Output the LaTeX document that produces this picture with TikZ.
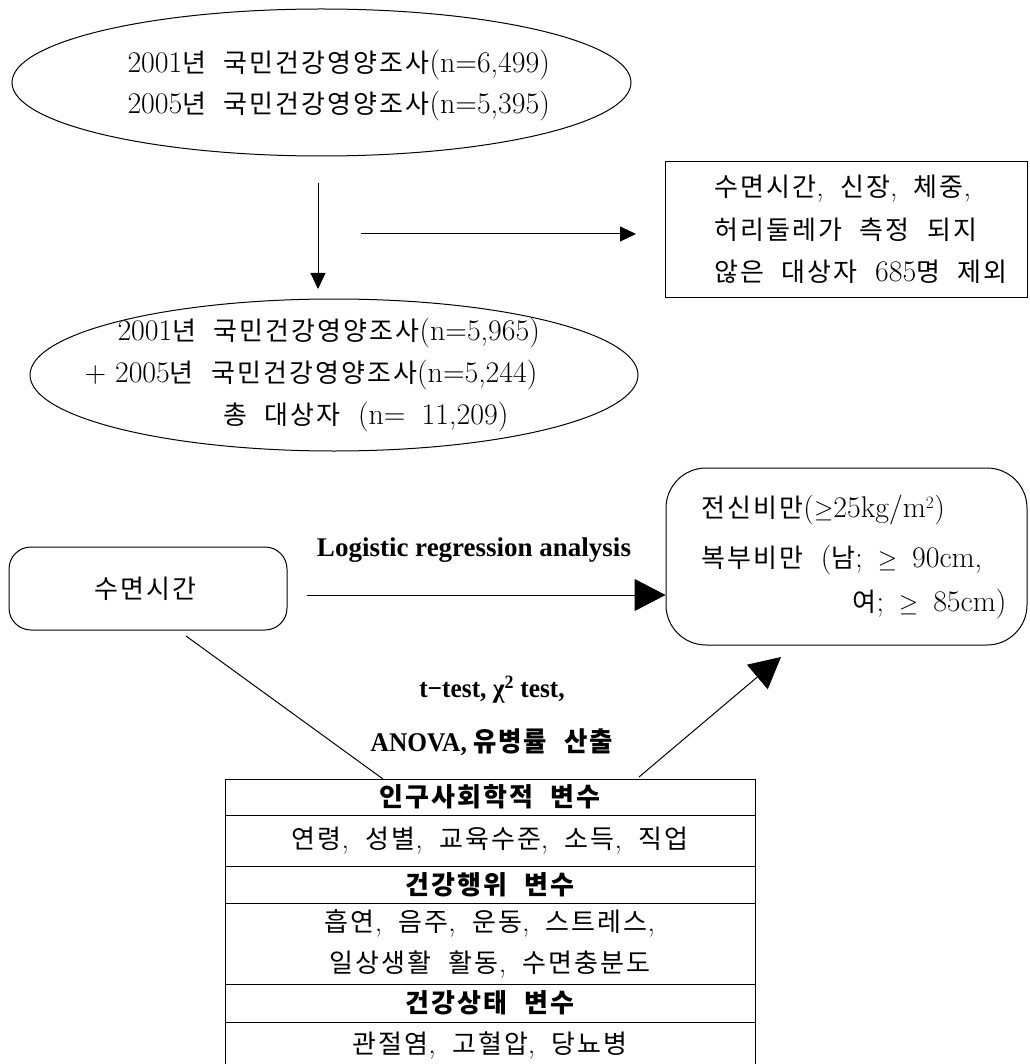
\documentclass[tikz,border=0pt]{standalone}
\usepackage{fontspec}
\usepackage{amsmath}
\usepackage{graphicx}
\usetikzlibrary{arrows.meta,shapes.geometric}
\setmainfont{Latin Modern Roman}[Scale=1.15,WordSpace=1.8]
\newfontfamily\kr{Noto Sans CJK KR}[LetterSpace=8,WordSpace=2.2]
\newfontfamily\lsb{Liberation Serif}
\XeTeXinterchartokenstate=1
\newXeTeXintercharclass\KrClass
\makeatletter
\count@="AC00
\loop\ifnum\count@<"D7A4 \XeTeXcharclass\count@=\KrClass \advance\count@ by 1 \repeat
\makeatother
\XeTeXinterchartoks 0 \KrClass = {\kr}
\XeTeXinterchartoks 4095 \KrClass = {\kr}
\XeTeXinterchartoks \KrClass 0 = {\rmfamily}
\XeTeXinterchartoks 4095 0 = {\rmfamily}
\newcommand\labtext[2]{{\XeTeXinterchartokenstate=0\relax\lsb\bfseries\fontsize{27}{30}\selectfont\scalebox{#1}[1]{#2}}}
\begin{document}
\begin{tikzpicture}[x=1pt,y=-1pt,line width=1pt,
  font=\fontsize{26}{41}\selectfont,
  txt/.style={inner sep=0pt},
  lab/.style={inner sep=0pt},
  smallarrow/.style={-{Triangle[length=16pt,width=15pt]}},
  bigarrow/.style={-{Triangle[length=31pt,width=32pt]}},
  rowbox/.style={draw,minimum width=530pt,inner sep=0pt}]
\useasboundingbox (0,0) rectangle (1029,1064);

% top ellipse
\node[draw,ellipse,minimum width=619pt,minimum height=147pt,inner sep=0pt] (s1) at (321.5,82.5) {};
\node[txt,align=left,anchor=west] (t1) at (127,86) {2001년 국민건강영양조사(n=6,499)\\2005년 국민건강영양조사(n=5,395)};

% arrows from top
\coordinate (a1s) at (318,183);
\coordinate (a1e) at (318,289);
\draw[smallarrow] (a1s) -- (a1e);
\coordinate (a2s) at (361,234);
\coordinate (a2e) at (636,234);
\draw[smallarrow] (a2s) -- (a2e);

% exclusion box
\node[draw,minimum width=362pt,minimum height=135pt,inner sep=0pt] (ex) at (846,229.5) {};
\node[txt,align=left,anchor=west,font=\fontsize{26}{42.5}\selectfont] (ext) at (714,229.5) {수면시간, 신장, 체중,\\허리둘레가 측정 되지\\않은 대상자 685명 제외};

% second ellipse
\node[draw,ellipse,minimum width=608pt,minimum height=152pt,inner sep=0pt] (s2) at (334,375) {};
\node[txt,anchor=west] (s2a) at (117,333) {2001년 국민건강영양조사(n=5,965)};
\node[txt,anchor=west] (s2b) at (84,375.5) {+\hspace{9pt}2005년 국민건강영양조사(n=5,244)};
\node[txt,anchor=west] (s2c) at (223,417.5) {총 대상자 (n= 11,209)};

% sleep box
\node[draw,rounded corners=22pt,minimum width=278pt,minimum height=83pt,inner sep=0pt] (sl) at (148,588.5) {};
\node[txt] (slt) at (145,589) {수면시간};

% obesity box
\node[draw,rounded corners=40pt,minimum width=361pt,minimum height=177pt,inner sep=0pt] (ob) at (846.5,556.5) {};
\node[txt,anchor=west] (ob1) at (701,510) {전신비만($\geq$25kg/m$^2$)};
\node[txt,anchor=west] (ob2) at (701,560) {복부비만 (남;\enskip$\geq$\enskip 90cm,};
\node[txt,anchor=east] (ob3) at (1007,604) {여;\enskip$\geq$\enskip 85cm)};

% logistic arrow
\coordinate (l1) at (307,595);
\draw[bigarrow] (l1) -- (l1 -| ob.west);
\node[lab] (lra) at (474,550) {\labtext{1}{Logistic regression analysis}};

% table
\node[rowbox,minimum height=36pt] (r1) at (490,797) {\bfseries 인구사회학적 변수};
\node[rowbox,minimum height=51pt] (r2) at (490,840.5) {연령, 성별, 교육수준, 소득, 직업};
\node[rowbox,minimum height=37pt] (r3) at (490,884.5) {\bfseries 건강행위 변수};
\node[rowbox,minimum height=81pt,align=center] (r4) at (490,943.5) {흡연, 음주, 운동, 스트레스,\\일상생활 활동, 수면충분도};
\node[rowbox,minimum height=38pt] (r5) at (490,1003) {\bfseries 건강상태 변수};
\node[rowbox,minimum height=46pt] (r6) at (490,1045) {관절염, 고혈압, 당뇨병};

% lines to/from table
\coordinate (d1) at (186,636);
\coordinate (d2) at (383,779);
\draw (d1) -- (d2);
\coordinate (u1) at (639,777);
\coordinate (u2) at (781,657);
\draw[bigarrow] (u1) -- (u2);
\node[lab] (tt) at (492,690) {\labtext{0.94}{t−test, χ\textsuperscript{2} test,}};
\node[lab] (an) at (492,742) {\labtext{0.94}{ANOVA, {\kr 유병률 산출}}};
\end{tikzpicture}
\end{document}
